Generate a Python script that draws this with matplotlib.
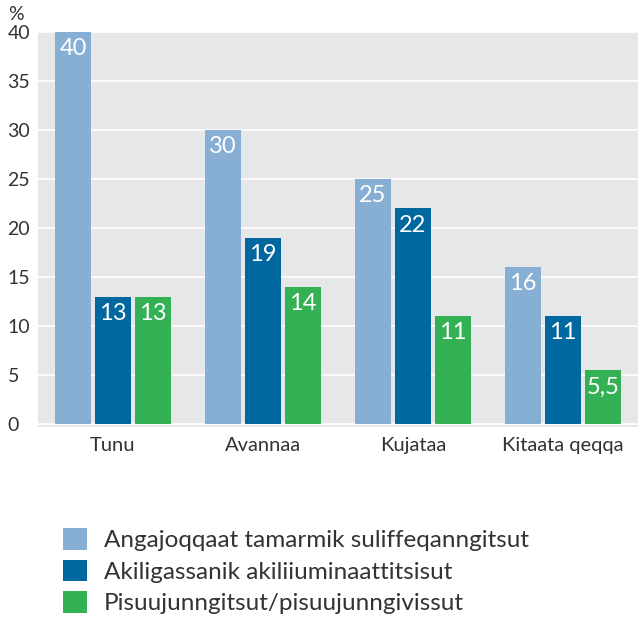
import numpy as np
import matplotlib.pyplot as plt
from matplotlib.patches import Patch

plt.rcParams['font.family'] = ['Lato', 'DejaVu Sans']

# data
regions = ['Tunu', 'Avannaa', 'Kujataa', 'Kitaata qeqqa']
series = ['Angajoqqaat tamarmik suliffeqanngitsut',
          'Akiligassanik akiliiuminaattitsisut',
          'Pisuujunngitsut/pisuujunngivissut']
values = [
    [40, 30, 25, 16],
    [13, 19, 22, 11],
    [13, 14, 11, 5.5],
]
colors = ['#86afd3', '#00679f', '#34b055']
yticks = [0, 5, 10, 15, 20, 25, 30, 35, 40]

fig = plt.figure(figsize=(6.38, 6.20), dpi=100)
ax = fig.add_axes([38 / 638, 193 / 620, 600 / 638, 395 / 620])
ax.set_facecolor('#e6e7e9')

x = np.arange(len(regions))
width = 0.24
step = 40 / 150
for i, vals in enumerate(values):
    pos = x + (i - 1) * step
    bars = ax.bar(pos, vals, width=width, color=colors[i], zorder=3)
    for b, v in zip(bars, vals):
        txt = ('%g' % v).replace('.', ',')
        ax.annotate(txt, (b.get_x() + b.get_width() / 2, v), xytext=(0, -4.5),
                    textcoords='offset points', ha='center', va='top',
                    color='white', fontsize=17, zorder=4)

ax.set_xlim(-0.5, 3.5)
ax.set_ylim(-0.3, 40)
ax.set_yticks(yticks)
ax.set_yticklabels([str(t) for t in yticks])
ax.grid(axis='y', color='white', linewidth=1.2, zorder=1)
ax.set_xticks(x)
ax.set_xticklabels(regions)
ax.tick_params(axis='both', length=0, labelcolor='#333333')
ax.tick_params(axis='y', pad=22, labelsize=14)
for lbl in ax.get_yticklabels():
    lbl.set_ha('left')
ax.tick_params(axis='x', pad=7, labelsize=14.5)
for s in ax.spines.values():
    s.set_visible(False)

fig.text(8 / 638, 1 - 15 / 620, '%', fontsize=14, color='#333333', va='center')

handles = [Patch(facecolor=c) for c in colors]
fig.legend(handles, series, loc='upper left', bbox_to_anchor=(41 / 638, 1 - 506 / 620),
           frameon=False, fontsize=17.5, handlelength=1.0, handleheight=1.0,
           labelspacing=0.35, handletextpad=0.7, labelcolor='#333333')

fig.savefig('out.png', dpi=100)
